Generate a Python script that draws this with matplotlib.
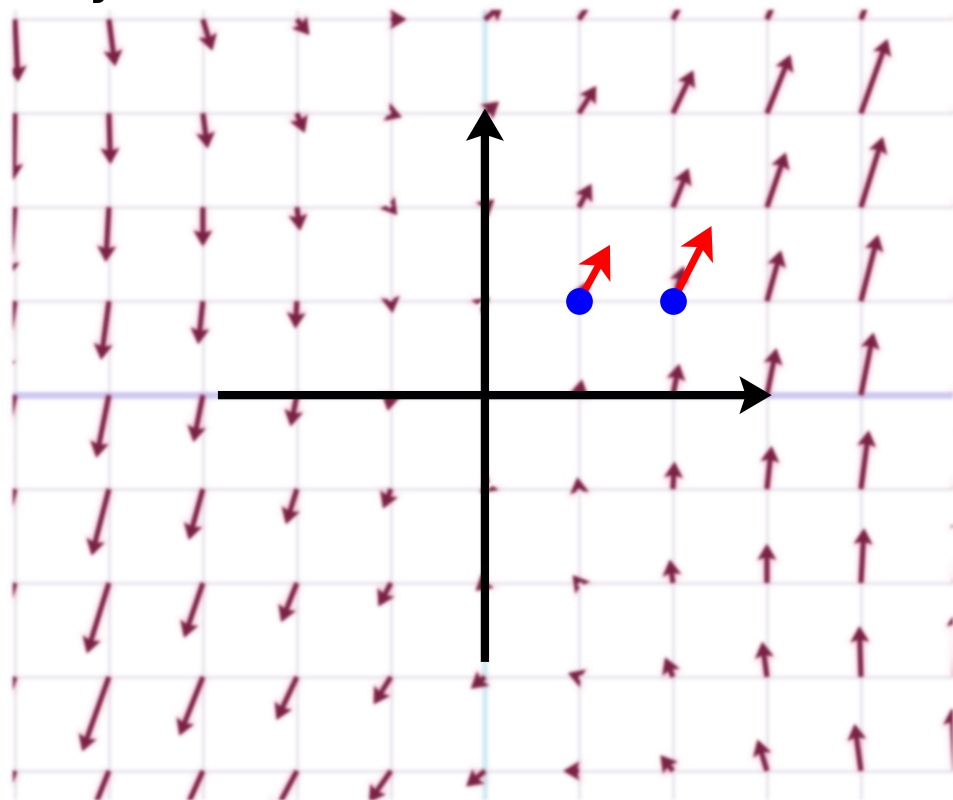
import numpy as np
import matplotlib
matplotlib.use('Agg')
import matplotlib.pyplot as plt
from matplotlib.patches import FancyArrow
from matplotlib.collections import PatchCollection

# Grille du champ de vecteurs
grille_x = [-5, -4, -3, -2, -1, 0, 1, 2, 3, 4, 5]
grille_y = [-4, -3, -2, -1, 0, 1, 2, 3, 4]

# Système linéaire X' = A X
matrice_A = [[0.2, 0.3],
             [1.0, 0.25]]

# Points (en bleu) et leurs vecteurs vitesse (en rouge)
points_x = [1, 2]
points_y = [1, 1]
vitesse_u = [0.33, 0.41]
vitesse_v = [0.60, 0.80]

# Étendue des axes noirs
axe_debut = -2.84
axe_fin = 3.05


def _lisse(im, k, axe):
    pad = len(k) // 2
    res = np.zeros_like(im)
    for i, w in enumerate(k):
        res += w * np.roll(im, i - pad, axis=axe)
    return res


# Flou gaussien appliqué au rendu d'un artiste (alpha prémultiplié)
def flou(sigma):
    def filtre(image, dpi):
        pad = int(3 * sigma) + 1
        im = np.pad(image, ((pad, pad), (pad, pad), (0, 0)))
        k = np.exp(-0.5 * (np.arange(-pad, pad + 1) / sigma) ** 2)
        k = k / k.sum()
        a = im[..., 3:4]
        pre = np.concatenate([im[..., :3] * a, a], axis=2)
        pre = _lisse(_lisse(pre, k, 0), k, 1)
        a2 = pre[..., 3:4]
        rgb = pre[..., :3] / np.maximum(a2, 1e-6)
        return np.concatenate([np.clip(rgb, 0, 1), a2], axis=2), -pad, -pad
    return filtre


fig = plt.figure(figsize=(9.54, 8.0), dpi=100)
ax = fig.add_axes([13 / 954, 0, 941 / 954, 790 / 800])
ax.set_xlim(-5.02, 4.99)
ax.set_ylim(-4.31, 4.1)
ax.axis('off')

# Lignes de la grille
gx = [x for x in grille_x if x != 0]
gy = [y for y in grille_y if y != 0]
lignes_v = ax.vlines(gx, -5, 5, colors='#ebe7ef', linewidth=2.4, zorder=1)
lignes_h = ax.hlines(gy, -6, 6, colors='#ebe7ef', linewidth=2.4, zorder=1)
ligne_x0 = ax.hlines([0], -6, 6, colors='#cfc9f1', linewidth=5, zorder=1)
ligne_y0 = ax.vlines([0], -5, 5, colors='#d0ebf4', linewidth=4, zorder=1)
for l in (lignes_v, lignes_h, ligne_x0, ligne_y0):
    l.set_agg_filter(flou(1.6))

# Champ de vecteurs (flèches partant des points de la grille)
A = np.array(matrice_A)
echelle = 6.0
fleches = []
halos = []
for x in grille_x:
    for y in grille_y:
        u = (A[0, 0] * x + A[0, 1] * y) / echelle
        v = (A[1, 0] * x + A[1, 1] * y) / echelle
        if u == 0 and v == 0:
            continue
        fleches.append(FancyArrow(x, y, u, v, width=0.052, head_width=0.2,
                                  head_length=0.17, overhang=0.12,
                                  length_includes_head=True))
        halos.append(FancyArrow(x, y, u, v, width=0.09, head_width=0.25,
                                head_length=0.2, overhang=0.1,
                                length_includes_head=True))

halo = PatchCollection(halos, facecolor='#f07aa8', edgecolor='none',
                       alpha=0.4, zorder=2)
halo.set_agg_filter(flou(3.0))
ax.add_collection(halo)
champ = PatchCollection(fleches, facecolor='#7a2144', edgecolor='none',
                        zorder=3)
champ.set_agg_filter(flou(1.5))
ax.add_collection(champ)

# Axes noirs avec flèches
ax.quiver([axe_debut, 0], [0, axe_debut],
          [axe_fin - axe_debut, 0], [0, axe_fin - axe_debut],
          angles='xy', scale_units='xy', scale=1, units='xy', width=0.088,
          headwidth=4.6, headlength=3.9, headaxislength=3.3,
          color='black', zorder=5)

# Vecteurs vitesse et points
ax.quiver(points_x, points_y, vitesse_u, vitesse_v, angles='xy',
          scale_units='xy', scale=1, units='xy', width=0.075,
          headwidth=5.2, headlength=4.6, headaxislength=3.6,
          color='#ff0000', zorder=6)
ax.scatter(points_x, points_y, s=370, color='#0000ff', zorder=7,
           linewidths=0)

# Lettre coupée en haut à gauche
fig.text(0.093, 1.008, 'y', fontsize=30, fontweight='bold',
         va='baseline', color='black')

fig.savefig('out.png', dpi=100, facecolor='white')
